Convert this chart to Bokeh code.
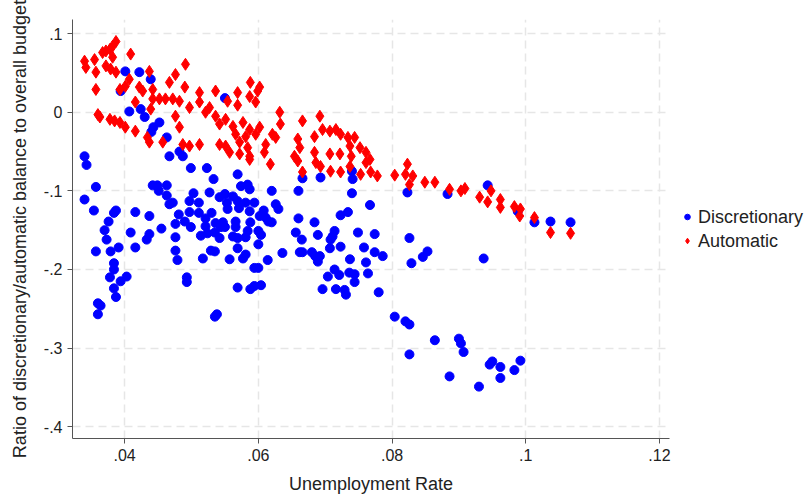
from bokeh.plotting import figure
from bokeh.models import FixedTicker, Legend, LegendItem, Range1d
from bokeh.embed import file_html
from bokeh.resources import INLINE

# (unemployment rate, ratio) pairs
discretionary = [
    (0.0401, 0.052), (0.0422, 0.051), (0.0439, 0.042), (0.0394, 0.027), (0.0550, 0.018),
    (0.0407, 0.001), (0.0424, 0.004), (0.0430, -0.006), (0.0452, -0.013), (0.0443, -0.019),
    (0.0440, -0.025), (0.0463, -0.032), (0.0340, -0.056), (0.0467, -0.056), (0.0482, -0.050),
    (0.0487, -0.056),
    (0.0343, -0.067), (0.0499, -0.071), (0.0523, -0.071), (0.0533, -0.085), (0.0357, -0.095),
    (0.0442, -0.093), (0.0449, -0.093), (0.0451, -0.100), (0.0463, -0.093), (0.0463, -0.106),
    (0.0340, -0.111), (0.0472, -0.115), (0.0467, -0.117), (0.0503, -0.103), (0.0497, -0.113),
    (0.0511, -0.115), (0.0527, -0.102), (0.0542, -0.108), (0.0354, -0.125), (0.0387, -0.125),
    (0.0384, -0.128), (0.0416, -0.127), (0.0437, -0.132), (0.0376, -0.139), (0.0481, -0.130),
    (0.0497, -0.127), (0.0511, -0.128), (0.0530, -0.128), (0.0521, -0.135), (0.0490, -0.139),
    (0.0476, -0.142), (0.0499, -0.146), (0.0521, -0.145), (0.0536, -0.141), (0.0544, -0.146),
    (0.0370, -0.150), (0.0409, -0.153), (0.0455, -0.148), (0.0437, -0.155), (0.0433, -0.162),
    (0.0373, -0.162), (0.0514, -0.157), (0.0524, -0.154), (0.0535, -0.153), (0.0542, -0.160),
    (0.0476, -0.159), (0.0357, -0.177), (0.0379, -0.177), (0.0391, -0.172), (0.0416, -0.172),
    (0.0476, -0.176), (0.0529, -0.176), (0.0535, -0.177), (0.0479, -0.188), (0.0517, -0.186),
    (0.0384, -0.192), (0.0384, -0.200), (0.0378, -0.210), (0.0394, -0.215), (0.0403, -0.209),
    (0.0384, -0.224), (0.0387, -0.235), (0.0493, -0.210), (0.0493, -0.216),
    (0.0360, -0.243), (0.0364, -0.246), (0.0360, -0.257), (0.0535, -0.260), (0.0538, -0.257),
    (0.0569, -0.079), (0.0666, -0.084), (0.0693, -0.083), (0.0740, -0.075), (0.0741, -0.085),
    (0.0574, -0.094), (0.0584, -0.092), (0.0587, -0.098), (0.0620, -0.100), (0.0660, -0.100),
    (0.0740, -0.103), (0.0550, -0.104), (0.0562, -0.107), (0.0569, -0.113), (0.0553, -0.115),
    (0.0581, -0.115), (0.0594, -0.115), (0.0626, -0.117), (0.0630, -0.123), (0.0554, -0.123),
    (0.0571, -0.122), (0.0587, -0.126), (0.0608, -0.125), (0.0767, -0.118), (0.0734, -0.127),
    (0.0723, -0.131), (0.0602, -0.132), (0.0611, -0.134), (0.0615, -0.139), (0.0620, -0.140),
    (0.0566, -0.139), (0.0588, -0.140), (0.0660, -0.135), (0.0547, -0.140), (0.0550, -0.146),
    (0.0566, -0.146), (0.0684, -0.140), (0.0584, -0.151), (0.0600, -0.151), (0.0656, -0.153),
    (0.0714, -0.151), (0.0749, -0.153), (0.0562, -0.158), (0.0569, -0.160), (0.0581, -0.159),
    (0.0604, -0.156), (0.0665, -0.162), (0.0689, -0.156), (0.0711, -0.158), (0.0708, -0.162),
    (0.0600, -0.168), (0.0569, -0.173), (0.0723, -0.171), (0.0758, -0.172), (0.0662, -0.178),
    (0.0666, -0.178), (0.0680, -0.178), (0.0707, -0.173), (0.0636, -0.179), (0.0685, -0.183),
    (0.0692, -0.183), (0.0689, -0.190), (0.0581, -0.181), (0.0577, -0.186), (0.0557, -0.187),
    (0.0614, -0.188), (0.0737, -0.187), (0.0761, -0.191), (0.0764, -0.205), (0.0594, -0.198),
    (0.0600, -0.198), (0.0714, -0.200), (0.0721, -0.207), (0.0736, -0.204), (0.0744, -0.206),
    (0.0704, -0.209), (0.0744, -0.216), (0.0569, -0.223), (0.0594, -0.221), (0.0588, -0.225),
    (0.0604, -0.220), (0.0696, -0.225), (0.0716, -0.225), (0.0729, -0.226), (0.0731, -0.232),
    (0.0823, -0.102), (0.0883, -0.104), (0.0943, -0.093), (0.0988, -0.126), (0.0774, -0.155),
    (0.0826, -0.160), (0.0774, -0.178), (0.0786, -0.183), (0.0853, -0.177), (0.0846, -0.184),
    (0.0829, -0.192), (0.0937, -0.186), (0.0780, -0.229),
    (0.1013, -0.140), (0.1037, -0.139), (0.1067, -0.140),
    (0.0804, -0.260), (0.0820, -0.266), (0.0826, -0.270), (0.0826, -0.308), (0.0864, -0.290),
    (0.0900, -0.288), (0.0903, -0.294), (0.0907, -0.305), (0.0886, -0.336), (0.0930, -0.349),
    (0.0946, -0.321), (0.0950, -0.317), (0.0962, -0.324), (0.0962, -0.338), (0.0983, -0.328),
    (0.0992, -0.316),
]

automatic = [
    (0.0387, 0.090), (0.0382, 0.084), (0.0378, 0.080), (0.0372, 0.078), (0.0367, 0.076),
    (0.0409, 0.074), (0.0382, 0.070), (0.0340, 0.065), (0.0355, 0.067), (0.0342, 0.057),
    (0.0372, 0.059), (0.0379, 0.055), (0.0387, 0.051), (0.0357, 0.051), (0.0437, 0.052),
    (0.0491, 0.061), (0.0476, 0.048), (0.0467, 0.038), (0.0407, 0.042), (0.0401, 0.033),
    (0.0393, 0.029), (0.0357, 0.029), (0.0422, 0.032), (0.0427, 0.027), (0.0442, 0.029),
    (0.0490, 0.032), (0.0512, 0.025), (0.0536, 0.027), (0.0416, 0.013), (0.0442, 0.017),
    (0.0452, 0.017), (0.0461, 0.017), (0.0472, 0.017), (0.0482, 0.014), (0.0497, 0.006),
    (0.0512, 0.013), (0.0527, 0.006), (0.0521, 0.000), (0.0536, -0.005), (0.0542, -0.015),
    (0.0439, 0.004), (0.0476, -0.005), (0.0360, -0.003), (0.0363, -0.006), (0.0378, -0.009),
    (0.0385, -0.011), (0.0393, -0.013), (0.0401, -0.019), (0.0416, -0.024), (0.0482, -0.019),
    (0.0434, -0.032), (0.0437, -0.038), (0.0457, -0.038), (0.0487, -0.041), (0.0497, -0.043),
    (0.0512, -0.041), (0.0542, -0.041),
    (0.0588, 0.038), (0.0602, 0.032), (0.0569, 0.025), (0.0587, 0.020), (0.0599, 0.027),
    (0.0554, 0.014), (0.0569, 0.009), (0.0596, 0.013), (0.0632, 0.000), (0.0633, -0.015),
    (0.0666, -0.011), (0.0692, -0.005), (0.0551, -0.009), (0.0562, -0.018), (0.0577, -0.013),
    (0.0587, -0.022), (0.0602, -0.019), (0.0566, -0.028), (0.0581, -0.031), (0.0596, -0.028),
    (0.0621, -0.028), (0.0626, -0.032), (0.0551, -0.043), (0.0572, -0.038), (0.0584, -0.045),
    (0.0557, -0.051), (0.0572, -0.053), (0.0587, -0.056), (0.0611, -0.041), (0.0609, -0.051),
    (0.0659, -0.034), (0.0662, -0.045), (0.0654, -0.056), (0.0684, -0.031), (0.0684, -0.051),
    (0.0696, -0.022), (0.0707, -0.024), (0.0716, -0.022), (0.0723, -0.028), (0.0734, -0.032),
    (0.0744, -0.032), (0.0737, -0.043), (0.0752, -0.045), (0.0761, -0.051), (0.0707, -0.053),
    (0.0722, -0.053), (0.0739, -0.056), (0.0767, -0.060),
    (0.0587, -0.060), (0.0618, -0.066), (0.0659, -0.062), (0.0666, -0.076), (0.0686, -0.064),
    (0.0693, -0.069), (0.0708, -0.075), (0.0723, -0.076), (0.0737, -0.069), (0.0753, -0.079),
    (0.0761, -0.064), (0.0768, -0.076),
    (0.0823, -0.066), (0.0778, -0.081), (0.0804, -0.080), (0.0820, -0.079), (0.0831, -0.081),
    (0.0826, -0.092), (0.0849, -0.089), (0.0864, -0.089), (0.0886, -0.098), (0.0903, -0.100),
    (0.0909, -0.097), (0.0931, -0.108), (0.0943, -0.114), (0.0948, -0.100), (0.0962, -0.111),
    (0.0962, -0.121), (0.0983, -0.120), (0.0991, -0.132), (0.0992, -0.123),
    (0.1013, -0.134), (0.1037, -0.153), (0.1067, -0.154),
]

x_ticks = [0.04, 0.06, 0.08, 0.10, 0.12]
x_tick_labels = [".04", ".06", ".08", ".1", ".12"]
y_ticks = [0.1, 0.0, -0.1, -0.2, -0.3, -0.4]
y_tick_labels = [".1", "0", "-.1", "-.2", "-.3", "-.4"]

FONT = "Liberation Sans"

p = figure(frame_width=597, frame_height=419, output_backend="svg", toolbar_location=None,
           x_range=Range1d(0.0322, 0.1215), y_range=Range1d(-0.415, 0.118),
           min_border_left=72, min_border_right=10, min_border_top=19, min_border_bottom=54,
           background_fill_color="white", border_fill_color="white")
p.outline_line_color = None

dx = [pt[0] for pt in discretionary]
dy = [pt[1] for pt in discretionary]
ax = [pt[0] for pt in automatic]
ay = [pt[1] for pt in automatic]

r_disc = p.scatter(dx, dy, marker="circle", size=9, fill_color="#0000FF", line_color="#0000FF")
r_auto = p.scatter(ax, ay, marker="diamond", size=12, fill_color="#FF0000", line_color="#FF0000")

for axis, ticks, labels in ((p.xaxis[0], x_ticks, x_tick_labels), (p.yaxis[0], y_ticks, y_tick_labels)):
    axis.ticker = FixedTicker(ticks=ticks)
    axis.major_label_overrides = {t: l for t, l in zip(ticks, labels)}
    axis.minor_tick_line_color = None
    axis.major_tick_out = 5
    axis.major_tick_in = 0
    axis.axis_line_color = "#555555"
    axis.major_tick_line_color = "#555555"
    axis.major_label_text_font = FONT
    axis.major_label_text_font_size = "16px"
    axis.major_label_text_color = "#222222"
    axis.axis_label_text_font = FONT
    axis.axis_label_text_font_size = "18px"
    axis.axis_label_text_font_style = "normal"
    axis.axis_label_text_color = "#222222"

p.yaxis.major_label_orientation = "horizontal"
p.xaxis.axis_label = "Unemployment Rate"
p.yaxis.axis_label = "Ratio of discretionary/automatic balance to overall budget"
p.xaxis.axis_label_standoff = 10
p.yaxis.axis_label_standoff = 11

p.xgrid.ticker = FixedTicker(ticks=x_ticks)
p.ygrid.ticker = FixedTicker(ticks=y_ticks)
for g in (p.xgrid[0], p.ygrid[0]):
    g.grid_line_color = "#e6e6e6"
    g.grid_line_dash = "8 5"
    g.grid_line_width = 1.5

legend = Legend(items=[LegendItem(label="Discretionary", renderers=[r_disc]),
                       LegendItem(label="Automatic", renderers=[r_auto])],
                location="center_left", border_line_color=None, background_fill_alpha=0,
                label_text_font=FONT, label_text_font_size="18px", label_text_color="#222222",
                glyph_width=14, glyph_height=14, spacing=3, margin=11, padding=0,
                label_standoff=4)
p.add_layout(legend, "right")

open("out.html", "w").write(file_html(p, INLINE))
